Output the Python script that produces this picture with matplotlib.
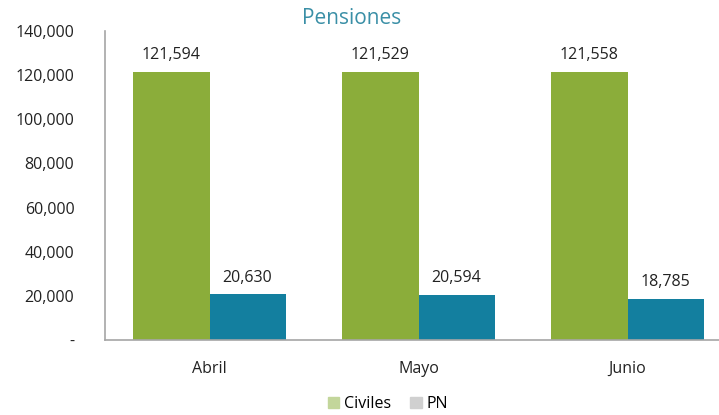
import numpy as np
import matplotlib.pyplot as plt
from matplotlib.patches import Patch
from matplotlib.ticker import FuncFormatter

meses = ['Abril', 'Mayo', 'Junio']
civiles = [121594, 121529, 121558]
pn = [20630, 20594, 18785]

plt.rcParams['font.family'] = ['Open Sans', 'DejaVu Sans']

fig = plt.figure(figsize=(7.19, 4.15), dpi=100)
W, H = 719, 415
ax = fig.add_axes([105 / W, 75 / H, 627 / W, 309 / H])

x = np.arange(len(meses))
bw = 0.364
b1 = ax.bar(x - bw / 2, civiles, bw, color='#8BAD3A')
b2 = ax.bar(x + bw / 2, pn, bw, color='#137F9F')

for bars, vals in ((b1, civiles), (b2, pn)):
    for b, v in zip(bars, vals):
        ax.text(b.get_x() + b.get_width() / 2, v + 3800, f'{v:,}',
                ha='center', va='bottom', fontsize=11.5, color='#222222')

ax.set_xlim(-0.5, 2.5)
ax.set_ylim(0, 140000)
ax.set_yticks(np.arange(0, 140001, 20000))
ax.yaxis.set_major_formatter(FuncFormatter(lambda v, p: '-' if v == 0 else f'{int(v):,}'))
ax.set_xticks(x)
ax.set_xticklabels(meses)
ax.tick_params(axis='both', length=0, labelsize=11.5, colors='#222222')
ax.tick_params(axis='y', pad=22)
ax.tick_params(axis='x', pad=15)

for s in ('top', 'right'):
    ax.spines[s].set_visible(False)
for s in ('left', 'bottom'):
    ax.spines[s].set_color('#A6A6A6')
    ax.spines[s].set_linewidth(1.2)

fig.text(352 / W, 1 - 18 / H, 'Pensiones', ha='center', va='center',
         fontsize=15, color='#3A8FA6')

handles = [Patch(color='#C3D69B', label='Civiles'), Patch(color='#D0D0D0', label='PN')]
fig.legend(handles=handles, loc='center', bbox_to_anchor=(388 / W, 1 - 404 / H),
           ncol=2, frameon=False, fontsize=11.5, handlelength=0.7, handleheight=0.7,
           handletextpad=0.3, columnspacing=1.2)

fig.savefig('out.png', dpi=100)
